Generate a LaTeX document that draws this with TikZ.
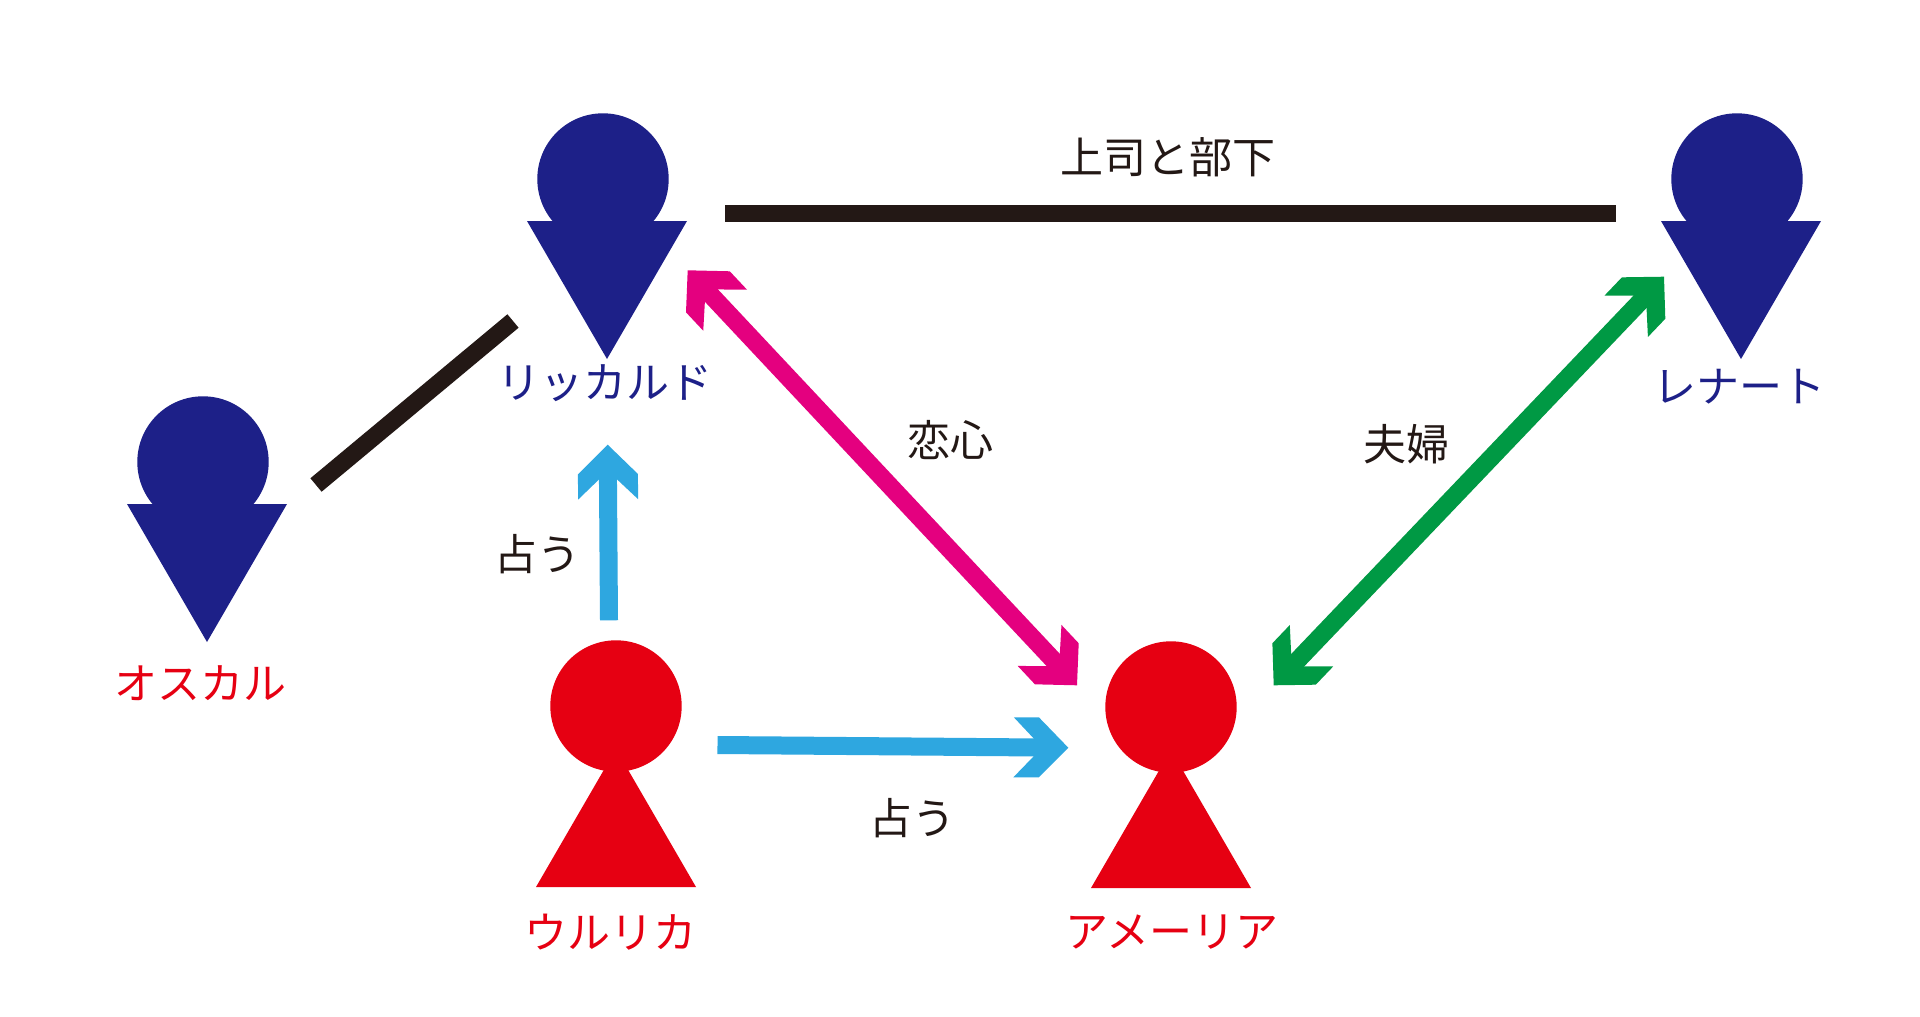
\documentclass[tikz,border=0pt]{standalone}
\usepackage{fontspec}
\setmainfont{Noto Sans CJK JP}
\usetikzlibrary{arrows.meta}
\definecolor{navy}{HTML}{1D2088}
\definecolor{rosso}{HTML}{E60012}
\definecolor{sky}{HTML}{2EA7E0}
\definecolor{rose}{HTML}{E4007F}
\definecolor{leaf}{HTML}{009944}
\definecolor{ink}{HTML}{231815}
\pgfdeclarearrow{
  name=Chev,
  setup code={
    \pgfarrowssettipend{0pt}
    \pgfarrowssetlineend{-34pt}
    \pgfarrowssetvisualbackend{-54.7pt}
    \pgfarrowssetbackend{-54.7pt}
    \pgfarrowshullpoint{0pt}{0pt}
    \pgfarrowshullpoint{-54.7pt}{30pt}
    \pgfarrowshullpoint{-54.7pt}{-30pt}
  },
  drawing code={
    \pgfpathmoveto{\pgfqpoint{0pt}{0pt}}
    \pgfpathlineto{\pgfqpoint{-29.5pt}{30pt}}
    \pgfpathlineto{\pgfqpoint{-54.7pt}{30pt}}
    \pgfpathlineto{\pgfqpoint{-34.7pt}{9pt}}
    \pgfpathlineto{\pgfqpoint{-34.7pt}{-9pt}}
    \pgfpathlineto{\pgfqpoint{-54.7pt}{-30pt}}
    \pgfpathlineto{\pgfqpoint{-29.5pt}{-30pt}}
    \pgfpathclose
    \pgfusepathqfill
  }
}
\tikzset{
  x=1pt,y=-1pt,
  link/.style={line width=17.5pt,draw=ink},
  arrowline/.style={line width=18pt},
  name label/.style={font=\fontsize{43}{43}\selectfont,inner sep=0pt},
  note/.style={font=\fontsize{43}{43}\selectfont,inner sep=0pt,text=ink},
  personup/.pic={
    \fill[pic actions] (0,0) circle[radius=65.7];
    \fill[pic actions] (0,43) -- (-80,181) -- (80,181) -- cycle;
  },
  persondown/.pic={
    \fill[pic actions] (0,0) circle[radius=65.7];
    \fill[pic actions] (-76,42) -- (84,42) -- (4,180) -- cycle;
  }
}
\begin{document}
\begin{tikzpicture}
\useasboundingbox (0,0) rectangle (1920,1017);
\fill[white] (0,0) rectangle (1920,1017);
% people
\pic[fill=navy] at (603,179) {persondown};
\pic[fill=navy] at (1737,179) {persondown};
\pic[fill=navy] at (203,462) {persondown};
\pic[fill=rosso] at (616,706) {personup};
\pic[fill=rosso] at (1171,707) {personup};
% names
\node[name label,text=navy] (riccardo) at (605,383) {リッカルド};
\node[name label,text=navy] (renato) at (1739,387) {レナート};
\node[name label,text=rosso] (oscar) at (200,683) {オスカル};
\node[name label,text=rosso] (ulrica) at (610,932) {ウルリカ};
\node[name label,text=rosso] (amelia) at (1172,932) {アメーリア};
% relation labels
\node[note] (boss) at (1168,157) {上司と部下};
\node[note] (love) at (950,440) {恋心};
\node[note] (spouse) at (1406,444) {夫婦};
\node[note] (fortuneA) at (537,554) {占う};
\node[note] (fortuneB) at (912,818) {占う};
% connector ends
\coordinate (bossL) at (725,213.5);
\coordinate (bossR) at (1616,213.5);
\coordinate (oscarEnd) at (316,485);
\coordinate (ricEnd) at (513,321);
\coordinate (loveA) at (687.7,270.3);
\coordinate (loveB) at (1077,685.3);
\coordinate (marryA) at (1664,276.7);
\coordinate (marryB) at (1273.7,685.3);
\coordinate (ulrUpTail) at (609,620.3);
\coordinate (ulrUpTip) at (607.7,444.7);
\coordinate (ulrRightTail) at (717.5,745);
\coordinate (ulrRightTip) at (1068.3,747.7);
% connectors
\draw[link] (bossL) -- (bossR);
\draw[link] (oscarEnd) -- (ricEnd);
\draw[arrowline,draw=rose,{Chev}-{Chev}] (loveA) -- (loveB);
\draw[arrowline,draw=leaf,{Chev}-{Chev}] (marryA) -- (marryB);
\draw[arrowline,draw=sky,-{Chev}] (ulrUpTail) -- (ulrUpTip);
\draw[arrowline,draw=sky,-{Chev}] (ulrRightTail) -- (ulrRightTip);
\end{tikzpicture}
\end{document}
